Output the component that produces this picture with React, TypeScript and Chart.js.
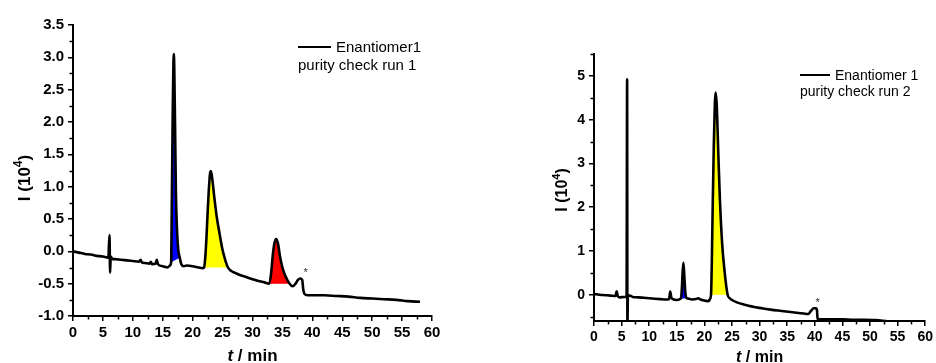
import React, { useEffect, useRef } from 'react';
import { Chart, registerables } from 'chart.js';

Chart.register(...registerables);

const FONT = '"Liberation Sans", Arial, Helvetica, sans-serif';

// ---------- Run 1 ----------
const run1Time = [
  0, 1, 2, 3, 4, 5, 5.9, 6.1, 6.2, 6.3,
  6.6, 7, 8, 9, 10, 11, 11.3, 11.5, 12, 12.8,
  13.0, 13.2, 13.8, 14.0, 14.2, 15, 15.8, 16.2, 16.4, 16.5,
  16.65, 16.85, 17.05, 17.2, 17.4, 17.6, 17.85, 18.1, 18.5, 19,
  20, 21, 21.6, 21.9, 22.1, 22.3, 22.5, 22.7, 22.9, 23.05,
  23.3, 23.6, 24.0, 24.5, 25.0, 25.5, 25.9, 26.4, 27, 28,
  29, 30, 31, 32, 32.8, 33.1, 33.4, 33.7, 34.0, 34.3,
  34.6, 35.0, 35.5, 36.2, 36.7, 37.2, 37.6, 38.0, 38.3, 38.5,
  38.7, 39.2, 40, 42, 44, 46, 48, 50, 52, 54,
  56, 58,
];
const run1Signal = [
  0, -0.02, -0.04, -0.05, -0.07, -0.08, -0.1, 0.25, -0.33, -0.08,
  -0.12, -0.12, -0.13, -0.14, -0.15, -0.16, -0.13, -0.17, -0.18, -0.19,
  -0.16, -0.2, -0.19, -0.13, -0.2, -0.23, -0.25, -0.22, -0.17, 0.6,
  2.0, 3.05, 2.0, 0.9, 0.3, 0.02, -0.1, -0.2, -0.23, -0.22,
  -0.23, -0.25, -0.26, -0.25, -0.1, 0.2, 0.6, 0.95, 1.2, 1.24,
  1.1, 0.85, 0.55, 0.27, 0.02, -0.15, -0.25, -0.3, -0.33, -0.37,
  -0.4, -0.43, -0.46, -0.48, -0.5, -0.35, -0.05, 0.14, 0.19, 0.1,
  -0.08, -0.25, -0.38, -0.5, -0.54, -0.5, -0.44, -0.42, -0.44, -0.6,
  -0.66, -0.68, -0.68, -0.68, -0.69, -0.7, -0.72, -0.73, -0.74, -0.75,
  -0.77, -0.78,
];
const run1PeakStart = [16.4, 21.9, 32.8];
const run1PeakEnd = [17.85, 25.9, 36.2];
const run1PeakColors = ['#0000ff', '#ffff00', '#ff0000'];
const run1MarkTime = [38.9];
const run1MarkSignal = [-0.33];
const run1YMajor = [-1.0, -0.5, 0.0, 0.5, 1.0, 1.5, 2.0, 2.5, 3.0, 3.5];
const run1YMinor = [-0.75, -0.25, 0.25, 0.75, 1.25, 1.75, 2.25, 2.75, 3.25];

// ---------- Run 2 ----------
const run2Time = [
  0, 1, 2, 3, 3.9, 4.1, 4.3, 4.6, 5.5, 5.9,
  6.0, 6.05, 6.15, 6.5, 7, 8, 9, 10, 11, 12,
  13, 13.6, 13.8, 14.0, 14.3, 15, 15.7, 15.9, 16.05, 16.2,
  16.35, 16.55, 16.8, 17.2, 17.8, 18.5, 18.9, 19.3, 20, 20.7,
  21.0, 21.2, 21.35, 21.5, 21.7, 21.9, 22.05, 22.25, 22.5, 22.8,
  23.2, 23.6, 24.2, 24.6, 25.0, 26, 27, 28, 29, 30,
  32, 34, 36, 38, 38.8, 39.3, 39.8, 40.2, 40.4, 40.5,
  41, 43, 45, 47, 49, 51, 53,
];
const run2Signal = [
  0.02, 0.0, -0.01, -0.02, -0.03, 0.08, -0.03, -0.06, -0.05, -0.05,
  4.92, -0.7, -0.02, -0.02, -0.05, -0.06, -0.07, -0.08, -0.09, -0.1,
  -0.11, -0.1, 0.07, -0.06, -0.1, -0.12, -0.09, 0.1, 0.5, 0.73,
  0.45, 0.05, -0.08, -0.09, -0.11, -0.1, -0.08, -0.11, -0.13, -0.15,
  -0.1, 0.0, 0.8, 2.0, 3.4, 4.4, 4.62, 4.3, 3.3, 2.2,
  1.2, 0.6, 0.0, -0.08, -0.12, -0.18, -0.22, -0.25, -0.28, -0.3,
  -0.34, -0.37, -0.4, -0.43, -0.44, -0.37, -0.31, -0.31, -0.36, -0.55,
  -0.56, -0.56, -0.56, -0.57, -0.57, -0.58, -0.6,
];
const run2PeakStart = [15.7, 21.2];
const run2PeakEnd = [16.8, 24.2];
const run2PeakColors = ['#0000ff', '#ffff00'];
const run2MarkTime = [40.5];
const run2MarkSignal = [-0.18];
const run2YMajor = [0, 1, 2, 3, 4, 5];
const run2YMinor = [-0.5, 0.5, 1.5, 2.5, 3.5, 4.5, 5.5];

// ---------- shared x axis ----------
const xMajor = [0, 5, 10, 15, 20, 25, 30, 35, 40, 45, 50, 55, 60];
const xMinor = [2.5, 7.5, 12.5, 17.5, 22.5, 27.5, 32.5, 37.5, 42.5, 47.5, 52.5, 57.5];

type Spec = {
  width: number;
  time: number[];
  signal: number[];
  peakStart: number[];
  peakEnd: number[];
  peakColors: string[];
  markTime: number[];
  markSignal: number[];
  yMin: number;
  yMax: number;
  yMajor: number[];
  yMinor: number[];
  yDecimals: number;
  legendName: string;
  legendNote: string;
  yAxisWidth: number;
  xAxisHeight: number;
  padTop: number;
  padRight: number;
  tickSize: number;
  titleSize: number;
  legendSize: number;
  legendX: number;
  legendY: number;
  legendLen: number;
  legendGap: number;
  yTitleX: number;
  yTitleY: number;
  xTitleY: number;
};

function Panel({ spec }: { spec: Spec }) {
  const ref = useRef<HTMLCanvasElement | null>(null);

  useEffect(() => {
    if (!ref.current) return;
    const main = spec.time.map((t, i) => ({ x: t, y: spec.signal[i] }));
    const datasets: any[] = [
      {
        data: main,
        borderColor: '#000',
        borderWidth: 2.6,
        pointRadius: 0,
        fill: false,
        cubicInterpolationMode: 'monotone',
      },
    ];
    spec.peakStart.forEach((s, k) => {
      const e = spec.peakEnd[k];
      const seg = main.filter((p) => p.x >= s && p.x <= e);
      const baseIndex = datasets.length + 1;
      datasets.push({
        data: seg,
        borderColor: 'rgba(0,0,0,0)',
        borderWidth: 0,
        backgroundColor: spec.peakColors[k],
        pointRadius: 0,
        cubicInterpolationMode: 'monotone',
        fill: { target: baseIndex },
      });
      datasets.push({
        data: [seg[0], seg[seg.length - 1]],
        borderColor: 'rgba(0,0,0,0)',
        borderWidth: 0,
        pointRadius: 0,
        fill: false,
      });
    });

    const decorations = {
      id: 'decorations',
      afterDraw(chart: any) {
        const { ctx, chartArea } = chart;
        const xs = chart.scales.x;
        const ys = chart.scales.y;
        ctx.save();
        ctx.strokeStyle = '#000';
        ctx.lineWidth = 1.5;
        ctx.beginPath();
        xMinor.forEach((v) => {
          const px = Math.round(xs.getPixelForValue(v)) + 0.5;
          ctx.moveTo(px, chartArea.bottom);
          ctx.lineTo(px, chartArea.bottom + 3.5);
        });
        spec.yMinor.forEach((v) => {
          const py = Math.round(ys.getPixelForValue(v)) + 0.5;
          ctx.moveTo(chartArea.left, py);
          ctx.lineTo(chartArea.left - 3.5, py);
        });
        ctx.stroke();

        ctx.fillStyle = '#333';
        ctx.font = `11px ${FONT}`;
        ctx.textAlign = 'center';
        ctx.textBaseline = 'middle';
        spec.markTime.forEach((t, i) => {
          ctx.fillText('*', xs.getPixelForValue(t), ys.getPixelForValue(spec.markSignal[i]));
        });

        ctx.fillStyle = '#000';
        ctx.strokeStyle = '#000';
        ctx.lineWidth = 2;
        ctx.beginPath();
        ctx.moveTo(spec.legendX, spec.legendY - 5);
        ctx.lineTo(spec.legendX + spec.legendLen, spec.legendY - 5);
        ctx.stroke();
        ctx.font = `${spec.legendSize}px ${FONT}`;
        ctx.textAlign = 'left';
        ctx.textBaseline = 'alphabetic';
        ctx.fillText(spec.legendName, spec.legendX + spec.legendLen + 5, spec.legendY);
        ctx.fillText(spec.legendNote, spec.legendX, spec.legendY + spec.legendGap);

        const cx = (chartArea.left + chartArea.right) / 2;
        const italic = `italic bold ${spec.titleSize}px ${FONT}`;
        const bold = `bold ${spec.titleSize}px ${FONT}`;
        ctx.font = italic;
        const wT = ctx.measureText('t').width;
        ctx.font = bold;
        const wRest = ctx.measureText(' / min').width;
        const x0 = cx - (wT + wRest) / 2;
        ctx.font = italic;
        ctx.fillText('t', x0, spec.xTitleY);
        ctx.font = bold;
        ctx.fillText(' / min', x0 + wT, spec.xTitleY);

        ctx.translate(spec.yTitleX, spec.yTitleY);
        ctx.rotate(-Math.PI / 2);
        const supSize = Math.round(spec.titleSize * 0.7);
        ctx.font = bold;
        const w1 = ctx.measureText('I (10').width;
        const w3 = ctx.measureText(')').width;
        ctx.font = `bold ${supSize}px ${FONT}`;
        const w2 = ctx.measureText('4').width;
        const start = -(w1 + w2 + w3) / 2;
        ctx.font = bold;
        ctx.fillText('I (10', start, 0);
        ctx.font = `bold ${supSize}px ${FONT}`;
        ctx.fillText('4', start + w1, -spec.titleSize * 0.45);
        ctx.font = bold;
        ctx.fillText(')', start + w1 + w2, 0);
        ctx.restore();
      },
    };

    const tickFont = { family: FONT, size: spec.tickSize, weight: 'bold' as const };

    const chart = new Chart(ref.current, {
      type: 'line',
      data: { datasets },
      options: {
        animation: false,
        responsive: false,
        maintainAspectRatio: false,
        parsing: false as any,
        normalized: true,
        layout: { padding: { top: spec.padTop, right: spec.padRight, left: 0, bottom: 0 } },
        plugins: {
          legend: { display: false },
          tooltip: { enabled: false },
          title: { display: false },
        },
        scales: {
          x: {
            type: 'linear',
            min: 0,
            max: 60,
            afterBuildTicks: (s: any) => {
              s.ticks = xMajor.map((v) => ({ value: v }));
            },
            afterFit: (s: any) => {
              s.height = spec.xAxisHeight;
            },
            ticks: {
              font: tickFont,
              color: '#000',
              padding: 3,
              maxRotation: 0,
              autoSkip: false,
              callback: (v: any) => String(v),
            },
            grid: {
              drawOnChartArea: false,
              drawTicks: true,
              tickLength: 5,
              color: '#000',
              lineWidth: 1.5,
            },
            border: { display: true, color: '#000', width: 2 },
          },
          y: {
            type: 'linear',
            min: spec.yMin,
            max: spec.yMax,
            afterBuildTicks: (s: any) => {
              s.ticks = spec.yMajor.map((v) => ({ value: v }));
            },
            afterFit: (s: any) => {
              s.width = spec.yAxisWidth;
            },
            ticks: {
              font: tickFont,
              color: '#000',
              padding: 4,
              autoSkip: false,
              callback: (v: any) => Number(v).toFixed(spec.yDecimals),
            },
            grid: {
              drawOnChartArea: false,
              drawTicks: true,
              tickLength: 5,
              color: '#000',
              lineWidth: 1.5,
            },
            border: { display: true, color: '#000', width: 2 },
          },
        },
      },
      plugins: [decorations],
    });
    return () => chart.destroy();
  }, [spec]);

  return <canvas ref={ref} width={spec.width} height={363} style={{ display: 'block' }} />;
}

const leftSpec: Spec = {
  width: 466,
  time: run1Time,
  signal: run1Signal,
  peakStart: run1PeakStart,
  peakEnd: run1PeakEnd,
  peakColors: run1PeakColors,
  markTime: run1MarkTime,
  markSignal: run1MarkSignal,
  yMin: -1.0,
  yMax: 3.5,
  yMajor: run1YMajor,
  yMinor: run1YMinor,
  yDecimals: 1,
  legendName: 'Enantiomer1',
  legendNote: 'purity check run 1',
  yAxisWidth: 73,
  xAxisHeight: 47,
  padTop: 25,
  padRight: 34,
  tickSize: 15,
  titleSize: 17,
  legendSize: 15,
  legendX: 298,
  legendY: 52,
  legendLen: 33,
  legendGap: 18,
  yTitleX: 30,
  yTitleY: 178,
  xTitleY: 361,
};

const rightSpec: Spec = {
  width: 470,
  time: run2Time,
  signal: run2Signal,
  peakStart: run2PeakStart,
  peakEnd: run2PeakEnd,
  peakColors: run2PeakColors,
  markTime: run2MarkTime,
  markSignal: run2MarkSignal,
  yMin: -0.6,
  yMax: 5.5,
  yMajor: run2YMajor,
  yMinor: run2YMinor,
  yDecimals: 0,
  legendName: 'Enantiomer 1',
  legendNote: 'purity check run 2',
  yAxisWidth: 128,
  xAxisHeight: 42,
  padTop: 54,
  padRight: 9,
  tickSize: 14,
  titleSize: 16,
  legendSize: 14,
  legendX: 334,
  legendY: 80,
  legendLen: 30,
  legendGap: 16,
  yTitleX: 101,
  yTitleY: 190,
  xTitleY: 362,
};

export default function App() {
  return (
    <div
      style={{
        position: 'absolute',
        left: 0,
        top: 0,
        width: 936,
        height: 363,
        display: 'flex',
        background: '#fff',
        overflow: 'hidden',
      }}
    >
      <Panel spec={leftSpec} />
      <Panel spec={rightSpec} />
    </div>
  );
}
